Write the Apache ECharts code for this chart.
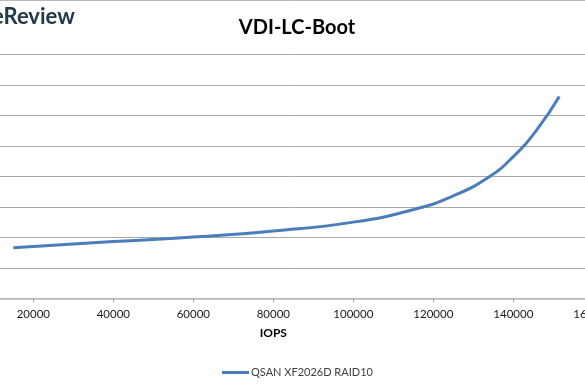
<!DOCTYPE html>
<html>
<head>
<meta charset="utf-8">
<script src="https://cdn.jsdelivr.net/npm/echarts@6/dist/echarts.min.js"></script>
<style>
html,body{margin:0;padding:0;background:#fff;}
#c{width:585px;height:390px;}
</style>
</head>
<body>
<div id="c"></div>
<script>
const chartTitle = "VDI-LC-Boot";
const xAxisName = "IOPS";
const seriesName = "QSAN XF2026D RAID10";
const iops =    [15000, 40000, 60000, 80000, 100000, 115000, 125000, 134000, 140000, 146000, 151500];
const latency = [1.66,  1.86,  2.01,  2.21,  2.50,   2.91,   3.36,   3.99,   4.65,   5.55,   6.62];

const chart = echarts.init(document.getElementById('c'), null, {renderer:'canvas'});
const font = 'Lato';
chart.setOption({
  animation:false,
  backgroundColor:'#ffffff',
  title:{
    text:chartTitle, left:292, top:13, textAlign:'center',
    textStyle:{fontFamily:font, fontWeight:'bold', fontSize:20, color:'#000'}
  },
  graphic:[
    {type:'line', shape:{x1:0,y1:0.5,x2:585,y2:0.5}, style:{stroke:'#b8b8b8', lineWidth:1}, silent:true},
    {type:'text', left:-8, top:6, style:{text:'eReview', fontFamily:font, fontWeight:'bold', fontSize:22, fill:'#22394a'}}
  ],
  legend:{
    data:[{name:seriesName, icon:'rect'}],
    left:217, top:362,
    itemWidth:27, itemHeight:3,
    textStyle:{fontFamily:font, fontSize:11, color:'#404040', padding:[0,0,0,-3]}
  },
  grid:{left:-46.7, right:-8.3, top:54.5, bottom:91.7, containLabel:false, outerBoundsMode:'none'},
  xAxis:{
    type:'value', min:0, max:160000, interval:20000,
    name:xAxisName, nameLocation:'middle', nameGap:29,
    nameTextStyle:{fontFamily:font, fontWeight:'bold', fontSize:12, color:'#000', align:'center'},
    axisLine:{show:true, lineStyle:{color:'#bdbdbd', width:1.5}},
    axisTick:{show:true, length:4, lineStyle:{color:'#a0a0a0'}},
    axisLabel:{fontFamily:font, fontSize:11.5, color:'#1a1a1a', margin:10, formatter:(v)=>String(v)},
    splitLine:{show:false}
  },
  yAxis:{
    type:'value', min:0, max:8, interval:1,
    axisLine:{show:false}, axisTick:{show:false}, axisLabel:{show:false},
    splitLine:{show:true, lineStyle:{color:'#a8a8a8', width:1}}
  },
  series:[{
    name:seriesName, type:'line', smooth:0.5, showSymbol:false,
    data: iops.map((v,i)=>[v, latency[i]]),
    lineStyle:{color:'#4a7ebb', width:3},
    itemStyle:{color:'#4a7ebb'}
  }]
});
</script>
</body>
</html>
